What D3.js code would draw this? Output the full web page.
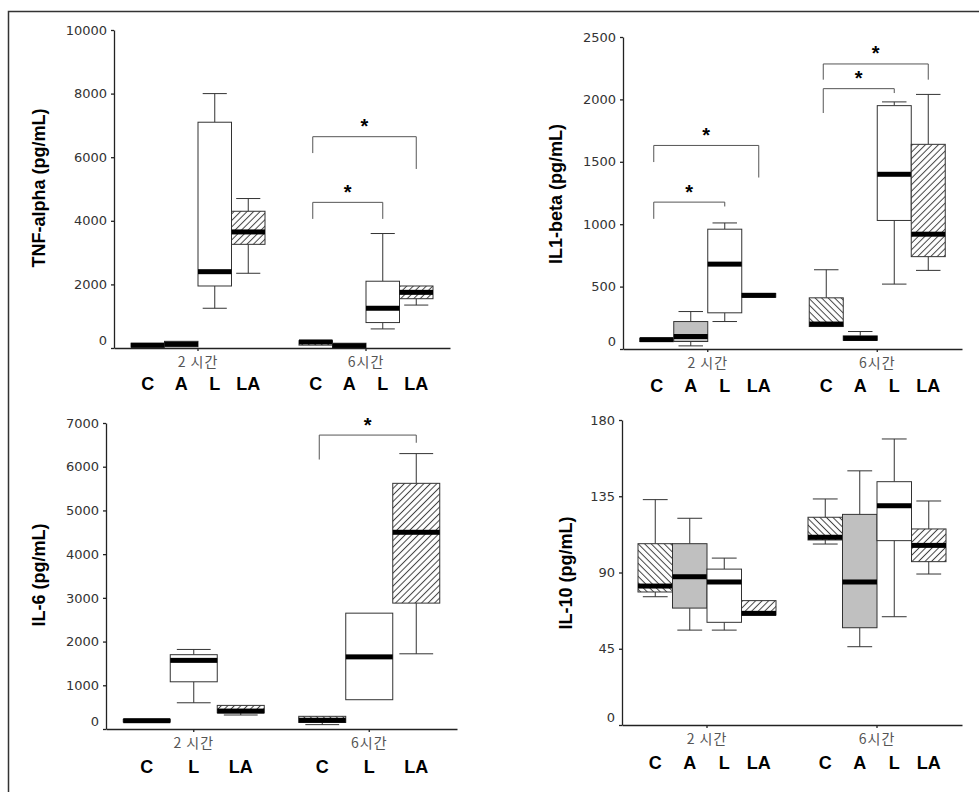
<!DOCTYPE html>
<html>
<head>
<meta charset="utf-8">
<script src="https://cdn.jsdelivr.net/npm/d3@7"></script>
<style>
    body { margin: 0; background: #fff; }
    svg { display: block; }
    .yaxis .tick text { font-family: "DejaVu Sans", sans-serif; font-size: 13px; fill: #333; }
    .xaxis .tick text { font-family: "Noto Sans CJK KR", sans-serif; font-size: 14px; fill: #555; letter-spacing: 1px; }
    .axis path, .axis line { stroke: #222; stroke-width: 1.3; }
</style>
</head>
<body>
<svg id="fig" width="979" height="792"></svg>
<script>
// time points and groups
var groups = ["2 시간", "6시간"];
var cats4 = ["C", "A", "L", "LA"];
var cats3 = ["C", "L", "LA"];

// each box: [low whisker, q1, median, q3, high whisker], null = no whisker
var tnfBoxes = [
    [[null, 30, 85, 150, null], [null, 40, 120, 210, null], [1250, 1950, 2400, 7100, 8000], [2350, 3260, 3650, 4300, 4700]],
    [[null, 90, 190, 230, null], [null, 10, 70, 150, null], [600, 800, 1250, 2100, 3600], [1350, 1550, 1750, 1950, null]]
];
var il1Boxes = [
    [[null, 60, 75, 85, null], [25, 60, 100, 220, 300], [220, 290, 680, 960, 1010], [null, 415, 430, 445, null]],
    [[null, 180, 200, 410, 635], [null, 70, 85, 105, 140], [520, 1030, 1400, 1950, 1980], [630, 740, 920, 1640, 2040]]
];
var il6Boxes = [
    [[null, 160, 190, 220, null], [600, 1080, 1570, 1700, 1820], [320, 370, 410, 540, null]],
    [[100, 150, 200, 290, null], [null, 670, 1650, 2650, null], [1720, 2880, 4500, 5620, 6300]]
];
var il10Boxes = [
    [[75.7, 78.5, 82, 107, 133], [56, 69, 87.5, 107, 122], [56, 60.6, 84.4, 92, 98.5], [null, 64.9, 65.9, 73.4, null]],
    [[106.8, 109.2, 110.8, 122.6, 133.4], [46.2, 57.4, 84.4, 124.3, 150], [63.9, 108.8, 129.4, 143.6, 168.8], [89.1, 96.4, 106, 115.7, 132.2]]
];

// significance brackets: [group index, from, to, top, left leg end, right leg end]
var tnfBrackets = [[1, "C", "LA", 6645, 6130, 5630], [1, "C", "L", 4580, 4060, 4060]];
var il1Brackets = [[0, "C", "LA", 1631, 1498, 1374], [0, "C", "L", 1177, 1043, 1142],
                   [1, "C", "LA", 2284, 2158, 2158], [1, "C", "L", 2086, 1891, 2051]];
var il6Brackets = [[1, "C", "LA", 6724, 6164, 6548]];
var il10Brackets = [];

var tnfTicks = [0, 2000, 4000, 6000, 8000, 10000];
var il1Ticks = [0, 500, 1000, 1500, 2000, 2500];
var il6Ticks = [0, 1000, 2000, 3000, 4000, 5000, 6000, 7000];
var il10Ticks = [0, 45, 90, 135, 180];

let svg = d3.select("#fig");
let defs = svg.append("defs");

function hatch(id, angle) {
    let p = defs.append("pattern")
        .attr("id", id)
        .attr("patternUnits", "userSpaceOnUse")
        .attr("width", 4.6).attr("height", 4.6)
        .attr("patternTransform", "rotate(" + angle + ")");
    p.append("rect").attr("width", 4.6).attr("height", 4.6).attr("fill", "#fff");
    p.append("line").attr("x1", 2.3).attr("x2", 2.3).attr("y1", 0).attr("y2", 4.6)
        .attr("stroke", "#444").attr("stroke-width", 1);
}
hatch("fwd", 45);
hatch("back", -45);

let fills = {C: "url(#back)", A: "#c0c0c0", L: "#fff", LA: "url(#fwd)"};

// frame of the figure (only left and top edges show)
svg.append("path")
    .attr("d", "M8.5,792V11.5H979")
    .attr("fill", "none").attr("stroke", "#333").attr("stroke-width", 1.5);

let panels = [
    {label: "TNF-alpha (pg/mL)", data: tnfBoxes, cats: cats4, yMax: 10000, ticks: tnfTicks, brackets: tnfBrackets,
     x0: 114, x1: 450, y0: 348, y1: 30, boxW: 33.5, labelX: 45, labelY: 188, letterDy: 42},
    {label: "IL1-beta (pg/mL)", data: il1Boxes, cats: cats4, yMax: 2500, ticks: il1Ticks, brackets: il1Brackets,
     x0: 623, x1: 962, y0: 349, y1: 37, boxW: 34, labelX: 562, labelY: 194, letterDy: 43},
    {label: "IL-6 (pg/mL)", data: il6Boxes, cats: cats3, yMax: 7000, ticks: il6Ticks, brackets: il6Brackets,
     x0: 106, x1: 457, y0: 729, y1: 423, boxW: 47, labelX: 45, labelY: 575, letterDy: 44},
    {label: "IL-10 (pg/mL)", data: il10Boxes, cats: cats4, yMax: 180, ticks: il10Ticks, brackets: il10Brackets,
     x0: 622, x1: 962, y0: 725, y1: 420, boxW: 34.5, labelX: 572, labelY: 573, letterDy: 44}
];

panels.forEach(drawPanel);

function drawPanel(p) {
    let g = svg.append("g");

    let x = d3.scaleBand().domain(groups).range([p.x0, p.x1]);
    let half = p.cats.length * p.boxW / 2;
    let xi = d3.scaleBand().domain(p.cats)
        .range([x.bandwidth() / 2 - half, x.bandwidth() / 2 + half]);
    let y = d3.scaleLinear().domain([0, p.yMax]).range([p.y0, p.y1]);
    let w = xi.bandwidth();

    function cx(gi, c) { return x(groups[gi]) + xi(c) + w / 2; }

    // boxes
    p.data.forEach(function(row, gi) {
        row.forEach(function(d, ci) {
            let c = p.cats[ci];
            let bx = x(groups[gi]) + xi(c);
            let mid = bx + w / 2;
            let cap = w * 0.36;
            let bg = g.append("g");

            if (d[0] != null) {
                bg.append("line").attr("x1", mid).attr("x2", mid).attr("y1", y(d[0])).attr("y2", y(d[1]));
                bg.append("line").attr("x1", mid - cap).attr("x2", mid + cap).attr("y1", y(d[0])).attr("y2", y(d[0]));
            }
            if (d[4] != null) {
                bg.append("line").attr("x1", mid).attr("x2", mid).attr("y1", y(d[4])).attr("y2", y(d[3]));
                bg.append("line").attr("x1", mid - cap).attr("x2", mid + cap).attr("y1", y(d[4])).attr("y2", y(d[4]));
            }
            bg.selectAll("line").attr("stroke", "#333").attr("stroke-width", 1);

            bg.append("rect")
                .attr("x", bx).attr("y", y(d[3]))
                .attr("width", w).attr("height", y(d[1]) - y(d[3]))
                .attr("fill", fills[c]).attr("stroke", "#333").attr("stroke-width", 1);

            bg.append("rect")
                .attr("x", bx).attr("y", y(d[2]) - 2.5)
                .attr("width", w).attr("height", 5)
                .attr("fill", "#000");
        });
    });

    // axes
    let yAxis = d3.axisLeft(y).tickValues(p.ticks).tickFormat(d3.format("d"))
        .tickSize(3).tickSizeOuter(0).tickPadding(4);
    let ya = g.append("g").attr("class", "axis yaxis")
        .attr("transform", "translate(" + p.x0 + ",0)")
        .call(yAxis);
    ya.selectAll(".tick text").filter(function(d) { return d === 0; })
        .attr("transform", "translate(0,-8)");

    let xAxis = d3.axisBottom(x).tickSize(3).tickSizeOuter(0).tickPadding(6);
    g.append("g").attr("class", "axis xaxis")
        .attr("transform", "translate(0," + p.y0 + ")")
        .call(xAxis);

    // category letters under each group
    groups.forEach(function(grp, gi) {
        p.cats.forEach(function(c) {
            g.append("text")
                .attr("x", cx(gi, c))
                .attr("y", p.y0 + p.letterDy)
                .attr("text-anchor", "middle")
                .style("font-family", "Arial, 'Liberation Sans', sans-serif")
                .style("font-size", "18px")
                .style("font-weight", "bold")
                .text(c);
        });
    });

    // y label
    g.append("text")
        .attr("transform", "translate(" + p.labelX + "," + p.labelY + ") rotate(-90)")
        .attr("text-anchor", "middle")
        .style("font-family", "Arial, 'Liberation Sans', sans-serif")
        .style("font-size", "18px")
        .style("font-weight", "bold")
        .text(p.label);

    // significance brackets
    p.brackets.forEach(function(b) {
        let xl = cx(b[0], b[1]) - 3,
            xr = cx(b[0], b[2]);
        g.append("path")
            .attr("d", "M" + xl + "," + y(b[4]) + "V" + y(b[3]) + "H" + xr + "V" + y(b[5]))
            .attr("fill", "none").attr("stroke", "#555").attr("stroke-width", 1);
        g.append("text")
            .attr("x", (xl + xr) / 2)
            .attr("y", y(b[3]) - 3.5)
            .attr("text-anchor", "middle")
            .style("font-family", "Arial, 'Liberation Sans', sans-serif")
            .style("font-size", "20px")
            .style("font-weight", "bold")
            .text("*");
    });
}
</script>
</body>
</html>
